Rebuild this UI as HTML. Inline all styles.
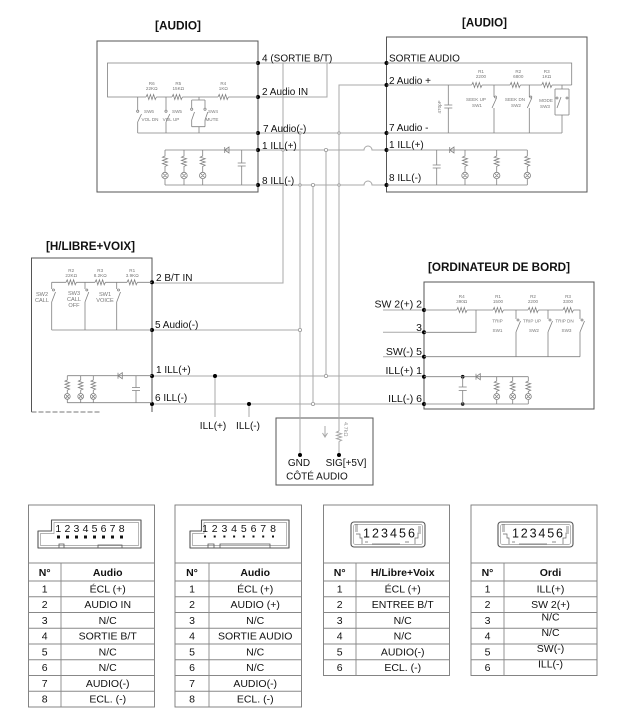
<!DOCTYPE html>
<html><head><meta charset="utf-8">
<style>
html,body{margin:0;padding:0;background:#fff;}
svg{display:block;font-family:"Liberation Sans",Arial,sans-serif;}
</style></head><body>
<svg width="625" height="725" viewBox="0 0 625 725" xmlns="http://www.w3.org/2000/svg">
<rect width="625" height="725" fill="#fff"/>

<!-- Titles -->
<g font-weight="bold" font-size="12" fill="#111">
<text x="155" y="29.5" textLength="46" lengthAdjust="spacingAndGlyphs">[AUDIO]</text>
<text x="462" y="26.5" textLength="45" lengthAdjust="spacingAndGlyphs">[AUDIO]</text>
<text x="46" y="250" textLength="89" lengthAdjust="spacingAndGlyphs">[H/LIBRE+VOIX]</text>
<text x="428" y="271" textLength="142" lengthAdjust="spacingAndGlyphs">[ORDINATEUR DE BORD]</text>
</g>

<!-- Boxes -->
<g fill="none" stroke="#555" stroke-width="1">
<rect x="97" y="41" width="161" height="151"/>
<rect x="386.5" y="37" width="200.5" height="155"/>
<path d="M152 412 V258 H31.5 V412"/>
<rect x="424" y="282" width="170" height="127"/>
<rect x="276" y="418" width="97" height="67"/>
</g>
<path d="M31.5 412 H101" stroke="#777" stroke-width="1" stroke-dasharray="5 2" fill="none"/>

<!-- Connecting wires -->
<g fill="none" stroke="#a8a8a8" stroke-width="1">
<path d="M258 63 H386.5"/>
<path d="M283 63 V283 H152"/>
<path d="M258 97 H327 V63"/>
<path d="M386.5 85 H339 V431 M339 441.4 V455"/>
<path d="M258 133 H386.5"/>
<path d="M300 133 V455"/>
<path d="M258 150 H364 a4 4 0 0 1 8 0 H386.5"/>
<path d="M258 185 H364 a4 4 0 0 1 8 0 H386.5"/>
<path d="M313 185 V404"/>
<path d="M326 150 V376"/>
<path d="M152 330 H300"/>
<path d="M152 376 H424"/>
<path d="M152 404 H424"/>
<path d="M215 376 V417"/>
<path d="M249 404 V417"/>
<path d="M383 310 H424 M383 332.3 H424 M383 356.7 H424"/>
<path d="M339 431 l-2.5 1.2 l5 1.6 l-5 1.6 l5 1.6 l-5 1.6 l5 1.6 l-2.5 1.2"/>
<path d="M325 426 V437 M322.5 433 L325 437 L327.5 433"/>
</g>
<g fill="#fff" stroke="#999" stroke-width="0.8">
<circle cx="313" cy="185" r="1.6"/><circle cx="326" cy="150" r="1.6"/>
<circle cx="300" cy="330" r="1.6"/><circle cx="326" cy="376" r="1.6"/>
<circle cx="313" cy="404" r="1.6"/><circle cx="300" cy="133" r="1.2"/>
<circle cx="339" cy="133" r="1.2"/><circle cx="283" cy="150" r="1.2"/>
<circle cx="300" cy="185" r="1.2"/><circle cx="339" cy="185" r="1.2"/>
</g>
<text transform="translate(344,422) rotate(90)" font-size="5.5" fill="#999">4.7kΩ</text>

<!-- Pin dots -->
<g fill="#000">
<circle cx="258" cy="63" r="2"/><circle cx="258" cy="97" r="2"/><circle cx="258" cy="133" r="2"/>
<circle cx="258" cy="150" r="2"/><circle cx="258" cy="185" r="2"/>
<circle cx="386.5" cy="63" r="2"/><circle cx="386.5" cy="85" r="2"/><circle cx="386.5" cy="133" r="2"/>
<circle cx="386.5" cy="150" r="2"/><circle cx="386.5" cy="185" r="2"/>
<circle cx="152" cy="282.3" r="2"/><circle cx="152" cy="330" r="2"/><circle cx="152" cy="376" r="2"/><circle cx="152" cy="404" r="2"/>
<circle cx="424" cy="310" r="2"/><circle cx="424" cy="332.3" r="2"/><circle cx="424" cy="356.7" r="2"/>
<circle cx="424" cy="376.7" r="2"/><circle cx="424" cy="404" r="2"/>
<circle cx="215" cy="376" r="2"/><circle cx="249" cy="404" r="2"/>
<circle cx="300" cy="455" r="2"/><circle cx="339" cy="455" r="2"/>
<circle cx="462.7" cy="376.7" r="1.8"/><circle cx="462.7" cy="404" r="1.8"/>
</g>

<!-- Labels -->
<g font-size="10" fill="#111">
<text x="262" y="61.5">4 (SORTIE B/T)</text>
<text x="262" y="95">2 Audio IN</text>
<text x="263" y="132">7 Audio(-)</text>
<text x="262" y="149">1 ILL(+)</text>
<text x="262" y="184">8 ILL(-)</text>
<text x="389" y="61.5">SORTIE AUDIO</text>
<text x="389" y="84">2 Audio +</text>
<text x="389" y="131">7 Audio -</text>
<text x="389" y="148">1 ILL(+)</text>
<text x="389" y="181">8 ILL(-)</text>
<text x="156" y="281">2 B/T IN</text>
<text x="155" y="328">5 Audio(-)</text>
<text x="156" y="373">1 ILL(+)</text>
<text x="155" y="401">6 ILL(-)</text>
<g text-anchor="end" font-size="10.5">
<text x="422" y="307.5">SW 2(+) 2</text>
<text x="422" y="331">3</text>
<text x="422" y="355">SW(-) 5</text>
<text x="422" y="374">ILL(+) 1</text>
<text x="422" y="402">ILL(-) 6</text>
</g>
<g text-anchor="middle">
<text x="213" y="429">ILL(+)</text>
<text x="248" y="429">ILL(-)</text>
<text x="299" y="466">GND</text>
<text x="346" y="466">SIG[+5V]</text>
<text x="317" y="479.5">CÔTÉ AUDIO</text>
</g>
</g>

<!-- Internal circuits -->
<g fill="none" stroke="#808080" stroke-width="0.8">
<!-- Left AUDIO -->
<path d="M258 63 H107.5 V97 H146 M156.4 97 H172 M182.4 97 H218 M228.4 97 H258"/>
<path d="M146 97 l1.2 -2.5 l1.6 5 l1.6 -5 l1.6 5 l1.6 -5 l1.6 5 l1.2 -2.5"/>
<path d="M172 97 l1.2 -2.5 l1.6 5 l1.6 -5 l1.6 5 l1.6 -5 l1.6 5 l1.2 -2.5"/>
<path d="M218 97 l1.2 -2.5 l1.6 5 l1.6 -5 l1.6 5 l1.6 -5 l1.6 5 l1.2 -2.5"/>
<path d="M137.7 97 V110 M137.7 122 V133 M137.7 122 L141.5 114"/>
<circle cx="137.7" cy="111.2" r="1.1"/>
<path d="M166 97 V110 M166 122 V133 M166 122 L169.8 114"/>
<circle cx="166" cy="111.2" r="1.1"/>
<path d="M199 97 V100 M191.7 100 H205 M191.7 100 V108 M191.7 120 V126.7 M205 100 V108 M205 120 V126.7 M191.7 126.7 H205 M199 126.7 V133 M191.7 120 L194.5 112 M205 120 L207.8 112"/>
<circle cx="191.7" cy="109.2" r="1.1"/><circle cx="205" cy="109.2" r="1.1"/>
<path d="M137.7 133 H258"/>
<path d="M165 150 H258 M165 185 H258"/>
<path d="M165 150 V156 l-2.5 1.2 l5 1.6 l-5 1.6 l5 1.6 l-5 1.6 l5 1.6 l-2.5 1.2 V172 M165 178.7 V185"/>
<path d="M184 150 V156 l-2.5 1.2 l5 1.6 l-5 1.6 l5 1.6 l-5 1.6 l5 1.6 l-2.5 1.2 V172 M184 178.7 V185"/>
<path d="M202.7 150 V156 l-2.5 1.2 l5 1.6 l-5 1.6 l5 1.6 l-5 1.6 l5 1.6 l-2.5 1.2 V172 M202.7 178.7 V185"/>
<circle cx="165" cy="175.5" r="3.2"/><circle cx="184" cy="175.5" r="3.2"/><circle cx="202.7" cy="175.5" r="3.2"/>
<path d="M163 173.5 l4 4 M167 173.5 l-4 4 M182 173.5 l4 4 M186 173.5 l-4 4 M200.7 173.5 l4 4 M204.7 173.5 l-4 4"/>
<path d="M224.7 147 V153 M224.7 150 L229 147 V153 Z"/>
<path d="M241.7 150 V163 M237.7 163 H245.7 M237.7 166 H245.7 M241.7 166 V185"/>

<!-- Right AUDIO -->
<path d="M386.5 63 H571.7 V85"/>
<path d="M386.5 85 H471.7 M482.1 85 H510 M520.4 85 H541.7 M552.1 85 H571.7"/>
<path d="M471.7 85 l1.2 -2.5 l1.6 5 l1.6 -5 l1.6 5 l1.6 -5 l1.6 5 l1.2 -2.5"/>
<path d="M510 85 l1.2 -2.5 l1.6 5 l1.6 -5 l1.6 5 l1.6 -5 l1.6 5 l1.2 -2.5"/>
<path d="M541.7 85 l1.2 -2.5 l1.6 5 l1.6 -5 l1.6 5 l1.6 -5 l1.6 5 l1.2 -2.5"/>
<path d="M448.3 85 V105 M444.3 105 H452.3 M444.3 108 H452.3 M448.3 108 V133"/>
<path d="M494 85 V97 M494 108 V133 M492 108 L496.5 98"/>
<circle cx="495.5" cy="97" r="1"/>
<path d="M529.3 85 V97 M529.3 108 V133 M527.3 108 L531.8 98"/>
<circle cx="530.8" cy="97" r="1"/>
<path d="M562 85 V89 M555 89 H569 M555 89 V115 M569 89 V115 M555 115 H569 M562 115 V133 M557 108 L561 97"/>
<circle cx="567" cy="98" r="1"/><circle cx="557" cy="98" r="1"/>
<path d="M386.5 133 H562"/>
<path d="M386.5 150 H527.3 M386.5 185 H527.3"/>
<path d="M436.7 150 V165 M432.7 165 H440.7 M432.7 168 H440.7 M436.7 168 V185"/>
<path d="M449.7 147 V153 M449.7 150 L454 147 V153 Z"/>
<path d="M465 150 V156 l-2.5 1.2 l5 1.6 l-5 1.6 l5 1.6 l-5 1.6 l5 1.6 l-2.5 1.2 V172 M465 178.7 V185"/>
<path d="M496.7 150 V156 l-2.5 1.2 l5 1.6 l-5 1.6 l5 1.6 l-5 1.6 l5 1.6 l-2.5 1.2 V172 M496.7 178.7 V185"/>
<path d="M527.3 150 V156 l-2.5 1.2 l5 1.6 l-5 1.6 l5 1.6 l-5 1.6 l5 1.6 l-2.5 1.2 V172 M527.3 178.7 V185"/>
<circle cx="465" cy="175.5" r="3.2"/><circle cx="496.7" cy="175.5" r="3.2"/><circle cx="527.3" cy="175.5" r="3.2"/>
<path d="M463 173.5 l4 4 M467 173.5 l-4 4 M494.7 173.5 l4 4 M498.7 173.5 l-4 4 M525.3 173.5 l4 4 M529.3 173.5 l-4 4"/>

<!-- H/LIBRE -->
<path d="M51.7 282.3 H66 M76.4 282.3 H95 M105.4 282.3 H127 M137.4 282.3 H152"/>
<path d="M66 282.3 l1.2 -2.5 l1.6 5 l1.6 -5 l1.6 5 l1.6 -5 l1.6 5 l1.2 -2.5"/>
<path d="M95 282.3 l1.2 -2.5 l1.6 5 l1.6 -5 l1.6 5 l1.6 -5 l1.6 5 l1.2 -2.5"/>
<path d="M127 282.3 l1.2 -2.5 l1.6 5 l1.6 -5 l1.6 5 l1.6 -5 l1.6 5 l1.2 -2.5"/>
<path d="M51.7 282.3 V289 M51.7 302 V330 M51.7 302 L55.5 292"/>
<circle cx="53.5" cy="290" r="1"/>
<path d="M85 282.3 V289 M85 302 V330 M85 302 L88.8 292"/>
<circle cx="86.8" cy="290" r="1"/>
<path d="M116.7 282.3 V289 M116.7 302 V330 M116.7 302 L120.5 292"/>
<circle cx="118.5" cy="290" r="1"/>
<path d="M51.7 330 H152"/>
<path d="M67.3 375.7 H152 M67.3 402.7 H152"/>
<path d="M67.3 375.7 V380 l-2.3 1.1 l4.6 1.6 l-4.6 1.6 l4.6 1.6 l-4.6 1.6 l4.6 1.6 l-2.3 1.1 V393.5 M67.3 399.3 V402.7"/>
<path d="M80.7 375.7 V380 l-2.3 1.1 l4.6 1.6 l-4.6 1.6 l4.6 1.6 l-4.6 1.6 l4.6 1.6 l-2.3 1.1 V393.5 M80.7 399.3 V402.7"/>
<path d="M93.3 375.7 V380 l-2.3 1.1 l4.6 1.6 l-4.6 1.6 l4.6 1.6 l-4.6 1.6 l4.6 1.6 l-2.3 1.1 V393.5 M93.3 399.3 V402.7"/>
<circle cx="67.3" cy="396.4" r="2.9"/><circle cx="80.7" cy="396.4" r="2.9"/><circle cx="93.3" cy="396.4" r="2.9"/>
<path d="M65.5 394.6 l3.6 3.6 M69.1 394.6 l-3.6 3.6 M78.9 394.6 l3.6 3.6 M82.5 394.6 l-3.6 3.6 M91.5 394.6 l3.6 3.6 M95.1 394.6 l-3.6 3.6"/>
<path d="M118 372.7 V378.7 M118 375.7 L122.3 372.7 V378.7 Z"/>
<path d="M136 375.7 V387.5 M132 387.5 H140 M132 390.5 H140 M136 390.5 V402.7"/>

<!-- ORDINATEUR -->
<path d="M424 310 H456.7 M467.1 310 H493 M503.4 310 H528 M538.4 310 H563 M573.4 310 H580 V319 M580 332 V356.7"/>
<path d="M456.7 310 l1.2 -2.5 l1.6 5 l1.6 -5 l1.6 5 l1.6 -5 l1.6 5 l1.2 -2.5"/>
<path d="M493 310 l1.2 -2.5 l1.6 5 l1.6 -5 l1.6 5 l1.6 -5 l1.6 5 l1.2 -2.5"/>
<path d="M528 310 l1.2 -2.5 l1.6 5 l1.6 -5 l1.6 5 l1.6 -5 l1.6 5 l1.2 -2.5"/>
<path d="M563 310 l1.2 -2.5 l1.6 5 l1.6 -5 l1.6 5 l1.6 -5 l1.6 5 l1.2 -2.5"/>
<path d="M424 332.3 H476 V310"/>
<path d="M516 310 V319 M516 332 V356.7 M516 332 L520.5 321"/>
<path d="M548 310 V319 M548 332 V356.7 M548 332 L552.5 321"/>
<path d="M580 332 L584.5 321"/>
<circle cx="518" cy="320" r="1"/><circle cx="550" cy="320" r="1"/><circle cx="582" cy="320" r="1"/>
<path d="M424 356.7 H580"/>
<path d="M424 376.7 H528.3 M424 404 H528.3"/>
<path d="M462.7 376.7 V387 M458.7 387 H466.7 M458.7 390.5 H466.7 M462.7 390.5 V404"/>
<path d="M476 373.7 V379.7 M476 376.7 L480.3 373.7 V379.7 Z"/>
<path d="M496.7 376.7 V381 l-2.4 1.2 l4.8 1.6 l-4.8 1.6 l4.8 1.6 l-4.8 1.6 l4.8 1.6 l-2.4 1.2 V393.5 M496.7 399.5 V404"/>
<path d="M512.7 376.7 V381 l-2.4 1.2 l4.8 1.6 l-4.8 1.6 l4.8 1.6 l-4.8 1.6 l4.8 1.6 l-2.4 1.2 V393.5 M512.7 399.5 V404"/>
<path d="M528.3 376.7 V381 l-2.4 1.2 l4.8 1.6 l-4.8 1.6 l4.8 1.6 l-4.8 1.6 l4.8 1.6 l-2.4 1.2 V393.5 M528.3 399.5 V404"/>
<circle cx="496.7" cy="396.5" r="3"/><circle cx="512.7" cy="396.5" r="3"/><circle cx="528.3" cy="396.5" r="3"/>
<path d="M494.8 394.6 l3.8 3.8 M498.6 394.6 l-3.8 3.8 M510.8 394.6 l3.8 3.8 M514.6 394.6 l-3.8 3.8 M526.4 394.6 l3.8 3.8 M530.2 394.6 l-3.8 3.8"/>
</g>

<!-- Tiny component labels -->
<g font-size="4.6" fill="#777" text-anchor="middle">
<text x="151.7" y="85">R6</text><text x="151.7" y="90">22KΩ</text>
<text x="178.3" y="85">R5</text><text x="178.3" y="90">15KΩ</text>
<text x="223.3" y="85">R4</text><text x="223.3" y="90">1KΩ</text>
<text x="149" y="113">SW6</text><text x="150" y="121">VOL DN</text>
<text x="177" y="113">SW5</text><text x="171" y="121">VOL UP</text>
<text x="213" y="113">SW4</text><text x="212" y="121">MUTE</text>
<text x="481" y="73">R1</text><text x="481" y="78">2200</text>
<text x="518.3" y="73">R2</text><text x="518.3" y="78">6800</text>
<text x="546.7" y="73">R3</text><text x="546.7" y="78">1KΩ</text>
<text x="476" y="101">SEEK UP</text><text x="477" y="107">SW1</text>
<text x="515" y="101">SEEK DN</text><text x="516" y="107">SW2</text>
<text x="546" y="102">MODE</text><text x="545" y="108">SW3</text>
<text transform="translate(441,107) rotate(-90)">470pF</text>
<text x="71.2" y="272">R2</text><text x="71.2" y="277">22KΩ</text>
<text x="100.2" y="272">R3</text><text x="100.2" y="277">8.2KΩ</text>
<text x="132.2" y="272">R1</text><text x="132.2" y="277">3.9KΩ</text>
<text x="461.7" y="298">R4</text><text x="461.7" y="303">390Ω</text>
<text x="498" y="298">R1</text><text x="498" y="303">1500</text>
<text x="533" y="298">R2</text><text x="533" y="303">2200</text>
<text x="568" y="298">R3</text><text x="568" y="303">3300</text>
<text x="497.5" y="322.5">TRIP</text><text x="497.5" y="332">SW1</text>
<text x="532" y="322.5">TRIP UP</text><text x="534" y="332">SW2</text>
<text x="564.5" y="322.5">TRIP DN</text><text x="566.5" y="332">SW3</text>
</g>
<g font-size="5.6" fill="#777" text-anchor="middle">
<text x="42" y="296">SW2</text><text x="42" y="302">CALL</text>
<text x="74" y="295">SW3</text><text x="74" y="301">CALL</text><text x="74" y="307">OFF</text>
<text x="105" y="296">SW1</text><text x="105" y="302">VOICE</text>
</g>

<!-- Tables -->
<g fill="none" stroke="#888" stroke-width="0.9">
<rect x="28.5" y="505" width="126" height="202" stroke="#777"/>
<path d="M28.5 563 H154.5 M28.5 581 H154.5 M28.5 596.75 H154.5 M28.5 612.5 H154.5 M28.5 628.25 H154.5 M28.5 644 H154.5 M28.5 659.75 H154.5 M28.5 675.5 H154.5 M28.5 691.25 H154.5 M61 563 V707"/>
<rect x="175" y="505" width="126.5" height="202" stroke="#777"/>
<path d="M175 563 H301.5 M175 581 H301.5 M175 596.75 H301.5 M175 612.5 H301.5 M175 628.25 H301.5 M175 644 H301.5 M175 659.75 H301.5 M175 675.5 H301.5 M175 691.25 H301.5 M209 563 V707"/>
<rect x="323.5" y="505" width="126" height="170.5" stroke="#777"/>
<path d="M323.5 563 H449.5 M323.5 581 H449.5 M323.5 596.75 H449.5 M323.5 612.5 H449.5 M323.5 628.25 H449.5 M323.5 644 H449.5 M323.5 659.75 H449.5 M356 563 V675.5"/>
<rect x="471" y="505" width="126" height="170.5" stroke="#777"/>
<path d="M471 563 H597 M471 581 H597 M471 596.75 H597 M471 612.5 H597 M471 628.25 H597 M471 644 H597 M471 659.75 H597 M504 563 V675.5"/>
</g>

<!-- Connector drawings -->
<g fill="none">
<path d="M38 531 H51.5 V520 H141 V548 H38 Z" stroke="#555" stroke-width="1.1" stroke-linejoin="round"/>
<path d="M40.5 533.5 H54 V522.5 H138.5 V545.5 H40.5 Z" stroke="#999" stroke-width="0.7"/>
<path d="M59 548 V544 H64 V548 M98 548 V545 H122 V548" stroke="#555" stroke-width="0.8"/>
<path d="M190 531 H201.5 V520 H289 V548 H190 Z" stroke="#555" stroke-width="1.1" stroke-linejoin="round"/>
<path d="M192.5 533.5 H204 V522.5 H286.5 V545.5 H192.5 Z" stroke="#999" stroke-width="0.7"/>
<path d="M208 548 V544 H214 V548 M220 548 V544 H270 V548" stroke="#555" stroke-width="0.8"/>
<rect x="351" y="522" width="74" height="25" rx="3" stroke="#555" stroke-width="1.1"/>
<rect x="353.5" y="524.5" width="69" height="20" rx="2" stroke="#999" stroke-width="0.7"/>
<path d="M355 525 H358 M355 527 H358 M355 529 H358 M355 531 H358 M356 534 H360 V538 H362 V544 M421 527 H418 M421 529 H418 M421 531 H418 M421 533 H418 V538 H415 V544 M372 544 H400 M365 542 H368 M405 542 H409" stroke="#666" stroke-width="0.7"/>
<rect x="498" y="522" width="75" height="25" rx="3" stroke="#555" stroke-width="1.1"/>
<rect x="500.5" y="524.5" width="70" height="20" rx="2" stroke="#999" stroke-width="0.7"/>
<path d="M502 525 H505 M502 527 H505 M502 529 H505 M502 531 H505 M503 534 H507 V538 H509 V544 M569 527 H566 M569 529 H566 M569 531 H566 M569 533 H566 V538 H563 V544 M519 544 H547 M512 542 H515 M552 542 H556" stroke="#666" stroke-width="0.7"/>
</g>
<g font-size="10.5" fill="#111" text-anchor="middle">
<text x="58.3" y="532">1</text><text x="67.4" y="532">2</text><text x="76.4" y="532">3</text><text x="85.5" y="532">4</text>
<text x="94.5" y="532">5</text><text x="103.6" y="532">6</text><text x="112.6" y="532">7</text><text x="121.7" y="532">8</text>
<text x="205" y="532">1</text><text x="214.7" y="532">2</text><text x="224.4" y="532">3</text><text x="234.1" y="532">4</text>
<text x="243.8" y="532">5</text><text x="253.5" y="532">6</text><text x="263.2" y="532">7</text><text x="273" y="532">8</text>
</g>
<g fill="#111">
<rect x="57" y="535.5" width="3" height="3"/><rect x="66" y="535.5" width="3" height="3"/><rect x="75" y="535.5" width="3" height="3"/><rect x="84" y="535.5" width="3" height="3"/>
<rect x="93" y="535.5" width="3" height="3"/><rect x="102" y="535.5" width="3" height="3"/><rect x="111" y="535.5" width="3" height="3"/><rect x="120" y="535.5" width="3" height="3"/>
<rect x="204" y="535.5" width="2" height="2"/><rect x="213.7" y="535.5" width="2" height="2"/><rect x="223.4" y="535.5" width="2" height="2"/><rect x="233.1" y="535.5" width="2" height="2"/>
<rect x="242.8" y="535.5" width="2" height="2"/><rect x="252.5" y="535.5" width="2" height="2"/><rect x="262.2" y="535.5" width="2" height="2"/><rect x="272" y="535.5" width="2" height="2"/>
</g>
<g font-size="12.5" fill="#111">
<text x="363" y="537.5" textLength="52" lengthAdjust="spacing">123456</text>
<text x="512" y="537.5" textLength="51" lengthAdjust="spacing">123456</text>
</g>

<!-- Table text -->
<g font-size="10.5" fill="#111" text-anchor="middle">
<g font-weight="bold">
<text x="44.7" y="576">N°</text><text x="107.7" y="576">Audio</text>
<text x="192" y="576">N°</text><text x="255.2" y="576">Audio</text>
<text x="339.7" y="576">N°</text><text x="402.7" y="576">H/Libre+Voix</text>
<text x="487.5" y="576">N°</text><text x="550.5" y="576">Ordi</text>
</g>
<text x="44.7" y="592.5">1</text><text x="107.7" y="592.5">ÉCL (+)</text>
<text x="44.7" y="608.2">2</text><text x="107.7" y="608.2">AUDIO IN</text>
<text x="44.7" y="624">3</text><text x="107.7" y="624">N/C</text>
<text x="44.7" y="639.7">4</text><text x="107.7" y="639.7">SORTIE B/T</text>
<text x="44.7" y="655.5">5</text><text x="107.7" y="655.5">N/C</text>
<text x="44.7" y="671.2">6</text><text x="107.7" y="671.2">N/C</text>
<text x="44.7" y="687">7</text><text x="107.7" y="687">AUDIO(-)</text>
<text x="44.7" y="702.7">8</text><text x="107.7" y="702.7">ECL. (-)</text>

<text x="192" y="592.5">1</text><text x="255.2" y="592.5">ÉCL (+)</text>
<text x="192" y="608.2">2</text><text x="255.2" y="608.2">AUDIO (+)</text>
<text x="192" y="624">3</text><text x="255.2" y="624">N/C</text>
<text x="192" y="639.7">4</text><text x="255.2" y="639.7">SORTIE AUDIO</text>
<text x="192" y="655.5">5</text><text x="255.2" y="655.5">N/C</text>
<text x="192" y="671.2">6</text><text x="255.2" y="671.2">N/C</text>
<text x="192" y="687">7</text><text x="255.2" y="687">AUDIO(-)</text>
<text x="192" y="702.7">8</text><text x="255.2" y="702.7">ECL. (-)</text>

<text x="339.7" y="592.5">1</text><text x="402.7" y="592.5">ÉCL (+)</text>
<text x="339.7" y="608.2">2</text><text x="402.7" y="608.2">ENTREE B/T</text>
<text x="339.7" y="624">3</text><text x="402.7" y="624">N/C</text>
<text x="339.7" y="639.7">4</text><text x="402.7" y="639.7">N/C</text>
<text x="339.7" y="655.5">5</text><text x="402.7" y="655.5">AUDIO(-)</text>
<text x="339.7" y="671.2">6</text><text x="402.7" y="671.2">ECL. (-)</text>

<text x="487.5" y="592.5">1</text><text x="550.5" y="592.5">ILL(+)</text>
<text x="487.5" y="608.2">2</text><text x="550.5" y="608.2">SW 2(+)</text>
<text x="487.5" y="624">3</text><text x="550.5" y="620.5">N/C</text>
<text x="487.5" y="639.7">4</text><text x="550.5" y="636.2">N/C</text>
<text x="487.5" y="655.5">5</text><text x="550.5" y="652">SW(-)</text>
<text x="487.5" y="671.2">6</text><text x="550.5" y="667.7">ILL(-)</text>
</g>
</svg>
</body></html>
